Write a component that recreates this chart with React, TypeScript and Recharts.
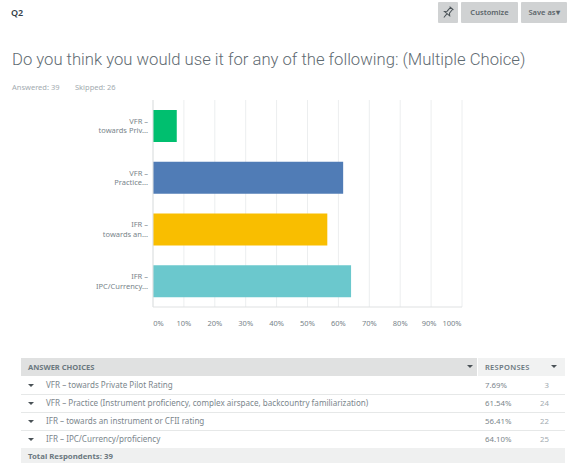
import React from "react";
import { BarChart, Bar, Cell, XAxis, YAxis, CartesianGrid } from "recharts";

const shortLabels = [
  ["VFR –", "towards Priv..."],
  ["VFR –", "Practice..."],
  ["IFR –", "towards an..."],
  ["IFR –", "IPC/Currency..."],
];
const fullLabels = [
  "VFR – towards Private Pilot Rating",
  "VFR – Practice (Instrument proficiency, complex airspace, backcountry familiarization)",
  "IFR – towards an instrument or CFII rating",
  "IFR – IPC/Currency/proficiency",
];
const percents = [7.69, 61.54, 56.41, 64.1];
const counts = [3, 24, 22, 25];
const barColors = ["#00bf6f", "#507cb6", "#f9be00", "#6bc8cd"];
const percentTicks = [0, 10, 20, 30, 40, 50, 60, 70, 80, 90, 100];

const rows = shortLabels.map((_, i) => ({ id: String(i), value: percents[i] }));
const FONT = '"Noto Sans", sans-serif';

function CategoryTick({ x, y, payload }: any) {
  const lines = shortLabels[Number(payload.value)];
  return (
    <text x={x + 3} y={y} textAnchor="end" fontSize={7.5} fill="#78848a" fontFamily={FONT}>
      <tspan x={x + 3} dy={-2}>{lines[0]}</tspan>
      <tspan x={x + 3} dy={9.5}>{lines[1]}</tspan>
    </text>
  );
}

function PercentTick({ x, y, payload }: any) {
  // The end labels are nudged inward so they stay within the plot width.
  const shift = payload.value === 0 ? 5.5 : payload.value === 100 ? -10 : payload.value === 90 ? -2 : 0;
  return (
    <text x={x + shift} y={y + 11} textAnchor="middle" fontSize={7.5} fill="#78848a" fontFamily={FONT}>
      {payload.value}%
    </text>
  );
}

const abs = (left: number, top: number, extra: React.CSSProperties = {}): React.CSSProperties => ({
  position: "absolute",
  left,
  top,
  fontFamily: FONT,
  whiteSpace: "nowrap",
  ...extra,
});

function Caret({ left, top }: { left: number; top: number }) {
  return (
    <div
      style={abs(left, top, {
        width: 0,
        height: 0,
        borderLeft: "3px solid transparent",
        borderRight: "3px solid transparent",
        borderTop: "3px solid #4a5257",
      })}
    />
  );
}

function Button({ left, width, label }: { left: number; width: number; label: string }) {
  return (
    <div
      style={abs(left, 2, {
        width,
        height: 21,
        background: "#d0d2d3",
        borderRadius: 1,
        color: "#5b6469",
        fontSize: 7.5,
        fontWeight: 600,
        lineHeight: "21px",
        textAlign: "center",
      })}
    >
      {label}
    </div>
  );
}

const rowTops = [376, 394, 412, 430];

export default function App() {
  return (
    <div style={{ position: "absolute", left: 0, top: 0, width: 569, height: 463, background: "#fff", overflow: "hidden" }}>
      <div style={abs(11, 6, { fontSize: 9, fontWeight: 600, color: "#333e48", lineHeight: "13px" })}>Q2</div>
      <div style={abs(438, 2, { width: 20, height: 21, background: "#d0d2d3", borderRadius: 1 })}>
        <svg width={20} height={21}>
          <g transform="rotate(40 10 10.5)" fill="none" stroke="#4a5257" strokeWidth={1}>
            <path d="M7.5 5h5M8.5 5v5l-2 2h7l-2-2V5M10 12v5" />
          </g>
        </svg>
      </div>
      <Button left={461} width={57} label="Customize" />
      <Button left={521} width={46} label="Save as▾" />

      <div style={abs(12, 48, { fontFamily: "Roboto, sans-serif", fontSize: 16.65, fontWeight: 300, color: "#5f6b72", lineHeight: "24px" })}>
        Do you think you would use it for any of the following: (Multiple Choice)
      </div>
      <div style={abs(12, 81, { fontSize: 7.5, color: "#a3abb0", lineHeight: "12px" })}>Answered: 39</div>
      <div style={abs(75, 81, { fontSize: 7.5, color: "#a3abb0", lineHeight: "12px" })}>Skipped: 26</div>

      <div style={{ position: "absolute", left: 0, top: 0 }}>
        <BarChart
          width={569}
          height={463}
          layout="vertical"
          data={rows}
          barCategoryGap={10}
          margin={{ top: 100, right: 107, bottom: 136, left: 0 }}
        >
          <CartesianGrid horizontal={false} stroke="#eceeef" />
          <XAxis
            type="number"
            domain={[0, 100]}
            ticks={percentTicks}
            interval={0}
            height={20}
            axisLine={{ stroke: "#dfe1e2" }}
            tickLine={false}
            tick={<PercentTick />}
          />
          <YAxis
            type="category"
            dataKey="id"
            width={153}
            axisLine={{ stroke: "#dfe1e2" }}
            tickLine={false}
            tick={<CategoryTick />}
          />
          <Bar dataKey="value" isAnimationActive={false}>
            {rows.map((r, i) => (
              <Cell key={r.id} fill={barColors[i]} />
            ))}
          </Bar>
        </BarChart>
      </div>

      <div style={abs(21, 358, { width: 456, height: 18, background: "#e0e1e1" })} />
      <div style={abs(478, 358, { width: 87, height: 18, background: "#f1f2f2" })} />
      <div style={abs(28, 358, { fontSize: 7.5, fontWeight: 700, color: "#6b787f", lineHeight: "18px" })}>ANSWER CHOICES</div>
      <div style={abs(485, 358, { fontSize: 7.5, fontWeight: 600, color: "#6b787f", lineHeight: "18px", letterSpacing: 0.3 })}>RESPONSES</div>
      <Caret left={467} top={365} />
      <Caret left={551} top={365} />

      {fullLabels.map((label, i) => (
        <React.Fragment key={label}>
          <div style={abs(21, rowTops[i] + 18, { width: 544, height: 1, background: "#e6e8e8" })} />
          <Caret left={28} top={rowTops[i] + 8} />
          <div style={abs(46, rowTops[i], { fontSize: 8.07, color: "#7b868c", lineHeight: "18px" })}>{label}</div>
          <div style={abs(485, rowTops[i], { fontSize: 7.8, color: "#7b868c", lineHeight: "18px" })}>
            {percents[i].toFixed(2)}%
          </div>
          <div style={abs(519, rowTops[i], { width: 30, textAlign: "right", fontSize: 7.8, color: "#a3abb0", lineHeight: "18px" })}>
            {counts[i]}
          </div>
        </React.Fragment>
      ))}

      <div style={abs(21, 448, { width: 544, height: 15, background: "#eff0f0" })} />
      <div style={abs(28, 448, { fontSize: 7.8, fontWeight: 700, color: "#6b787f", lineHeight: "17px" })}>Total Respondents: 39</div>
    </div>
  );
}
